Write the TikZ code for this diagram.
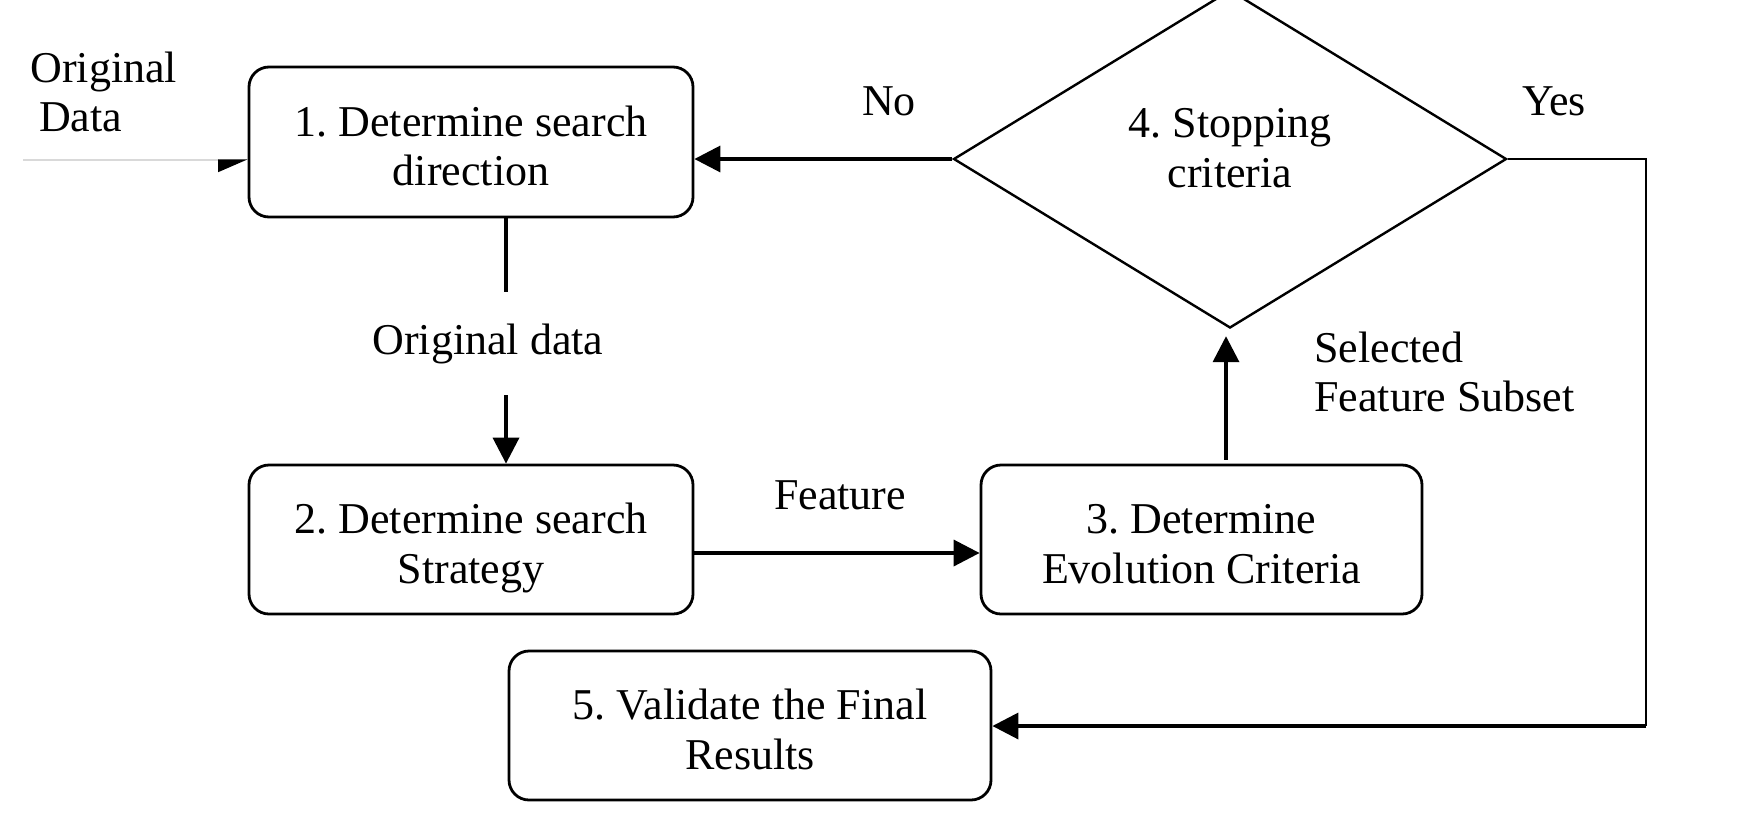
\documentclass[tikz,border=0pt]{standalone}
\usepackage{fontspec}
\setmainfont{Liberation Serif}
\usetikzlibrary{arrows.meta,shapes.geometric}
\newcommand\bxtop{\rule{0pt}{23.75pt}}
\newcommand\bxbot{\rule[-5pt]{0pt}{5pt}}
\begin{document}
\frenchspacing
\begin{tikzpicture}[x=0.5pt,y=-0.5pt,
  every node/.style={font=\fontsize{22pt}{24.75pt}\selectfont\frenchspacing},
  box/.style={draw,rounded corners=10pt,line width=1.4pt,align=center,inner sep=0pt},
  dia/.style={draw,diamond,line width=1.2pt,inner sep=0pt,minimum width=276.5pt,minimum height=169pt},
  lbl/.style={inner sep=0pt,align=left},
  arr/.style={line width=1.8pt,-{Triangle[length=13pt,width=13pt]}},
  thinline/.style={line width=1.1pt}]
\useasboundingbox (0,0) rectangle (1748,814);
\clip (0,0) rectangle (1748,814);
% boxes
\node[box,minimum width=222pt,minimum height=75pt] (b1) at (471,142) {\bxtop 1. Determine search\\direction\bxbot};
\node[box,minimum width=222pt,minimum height=74.5pt] (b2) at (471,539.5) {\bxtop 2. Determine search\\Strategy\bxbot};
\node[box,minimum width=220.5pt,minimum height=74.5pt] (b3) at (1201.5,539.5) {\bxtop 3. Determine\\Evolution Criteria\bxbot};
\node[box,minimum width=241pt,minimum height=74.5pt] (b5) at (750,725.5) {\bxtop 5. Validate the Final\\Results\bxbot};
\node[dia] (d) at (1230,159) {};
\node[lbl,align=center] (dt) at (1230,148) {4. Stopping\\criteria};
% labels
\node[lbl,minimum height=51.5pt] (od) at (488,343.5) {Original data};
\node[lbl,anchor=west] (odata) at (30,92) {Original\\\hspace*{0.2em}Data};
\node[lbl] (no) at (889,101) {No};
\node[lbl] (yes) at (1554,101) {Yes};
\node[lbl] (feat) at (840,495) {Feature};
\node[lbl,anchor=west] (sel) at (1314,372) {Selected\\Feature Subset};
% helper coordinates
\coordinate (in) at (23,160);
\coordinate (yc) at (1646,159);
\coordinate (yb) at (1646,726);
\coordinate (vx) at (506,0);
\coordinate (fy) at (0,553);
\coordinate (ux) at (1226,0);
% connectors
\draw[black!15,line width=0.6pt,-{Triangle[length=14pt,width=12pt,right,color=black,fill=black]}] (in) -- (in -| b1.west);
\draw[arr] (d.west) -- (d.west -| b1.east);
\draw[thinline] (d.east) -- (yc) -- (yb);
\draw[arr] (yb) -- (yb -| b5.east);
\draw[line width=1.8pt] (b1.south -| vx) -- (od.north -| vx);
\draw[arr] (od.south -| vx) -- (b2.north -| vx);
\draw[arr] (b2.east |- fy) -- (b3.west |- fy);
\draw[arr,shorten <=2pt,shorten >=3.5pt] (b3.north -| ux) -- (d.south -| ux);
\end{tikzpicture}
\end{document}
